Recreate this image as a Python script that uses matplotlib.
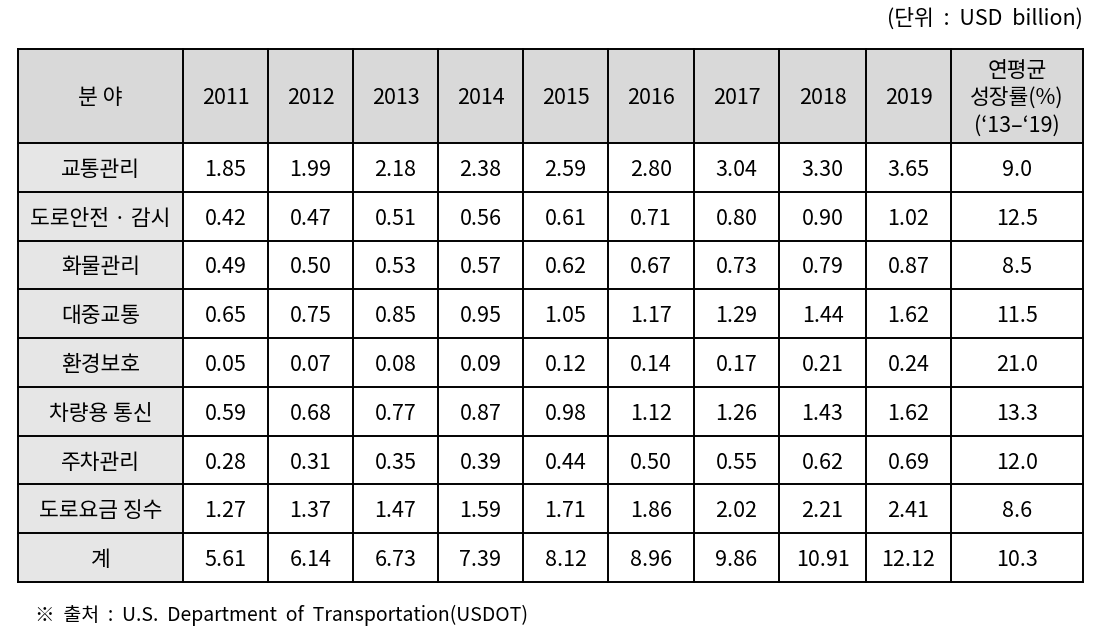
import matplotlib
matplotlib.use("Agg")
import matplotlib.pyplot as plt
from matplotlib.patches import Rectangle

plt.rcParams['font.family'] = ['Noto Sans CJK KR', 'DejaVu Sans']

header = ["분 야", "2011", "2012", "2013", "2014", "2015", "2016", "2017", "2018", "2019",
          "연평균\n성장률(%)\n(‘13–‘19)"]
categories = ["교통관리", "도로안전 · 감시", "화물관리", "대중교통", "환경보호",
              "차량용 통신", "주차관리", "도로요금 징수", "계"]
values = [
    ["1.85", "1.99", "2.18", "2.38", "2.59", "2.80", "3.04", "3.30", "3.65"],
    ["0.42", "0.47", "0.51", "0.56", "0.61", "0.71", "0.80", "0.90", "1.02"],
    ["0.49", "0.50", "0.53", "0.57", "0.62", "0.67", "0.73", "0.79", "0.87"],
    ["0.65", "0.75", "0.85", "0.95", "1.05", "1.17", "1.29", "1.44", "1.62"],
    ["0.05", "0.07", "0.08", "0.09", "0.12", "0.14", "0.17", "0.21", "0.24"],
    ["0.59", "0.68", "0.77", "0.87", "0.98", "1.12", "1.26", "1.43", "1.62"],
    ["0.28", "0.31", "0.35", "0.39", "0.44", "0.50", "0.55", "0.62", "0.69"],
    ["1.27", "1.37", "1.47", "1.59", "1.71", "1.86", "2.02", "2.21", "2.41"],
    ["5.61", "6.14", "6.73", "7.39", "8.12", "8.96", "9.86", "10.91", "12.12"],
]
growth = ["9.0", "12.5", "8.5", "11.5", "21.0", "13.3", "12.0", "8.6", "10.3"]
unit_text = "(단위  :  USD  billion)"
source_text = "※  출처  :  U.S.  Department  of  Transportation(USDOT)"

W, H = 1093, 641
fig = plt.figure(figsize=(W / 100, H / 100), dpi=100)
ax = fig.add_axes([0, 0, 1, 1])
ax.set_xlim(0, W)
ax.set_ylim(H, 0)
ax.axis('off')

col_edges = [18, 183, 268, 353, 438, 523, 608, 694, 779, 866, 951, 1083]
header_top, header_bot = 49, 143
n_rows = len(categories)
row_h = (582 - header_bot) / n_rows
row_edges = [header_top, header_bot] + [header_bot + row_h * (i + 1) for i in range(n_rows)]

fs = 15.5
dy = 2.5
header_fill = "#d9d9d9"
first_fill = "#e6e6e6"

# header row
ax.add_patch(Rectangle((col_edges[0], header_top), col_edges[-1] - col_edges[0],
                       header_bot - header_top, facecolor=header_fill, edgecolor='none'))
for j, h in enumerate(header):
    cx = (col_edges[j] + col_edges[j + 1]) / 2
    cy = (header_top + header_bot) / 2 + dy
    ax.text(cx, cy, h, ha='center', va='center', fontsize=fs, linespacing=1.3, color='black')

# body rows
for i, cat in enumerate(categories):
    y0, y1 = row_edges[i + 1], row_edges[i + 2]
    cy = (y0 + y1) / 2 + dy
    ax.add_patch(Rectangle((col_edges[0], y0), col_edges[1] - col_edges[0], y1 - y0,
                           facecolor=first_fill, edgecolor='none'))
    ax.text((col_edges[0] + col_edges[1]) / 2, cy, cat, ha='center', va='center', fontsize=fs)
    row_vals = values[i] + [growth[i]]
    for j, v in enumerate(row_vals):
        cx = (col_edges[j + 1] + col_edges[j + 2]) / 2
        ax.text(cx, cy, v, ha='center', va='center', fontsize=fs)

# grid lines
lw = 1.4
for y in row_edges:
    ax.plot([col_edges[0], col_edges[-1]], [y, y], color='black', lw=lw, solid_capstyle='projecting')
for x in col_edges:
    ax.plot([x, x], [row_edges[0], row_edges[-1]], color='black', lw=lw, solid_capstyle='projecting')

ax.text(1083, 19, unit_text, ha='right', va='center', fontsize=fs)
ax.text(35, 615, source_text, ha='left', va='center', fontsize=14)

fig.savefig("out.png", dpi=100)
